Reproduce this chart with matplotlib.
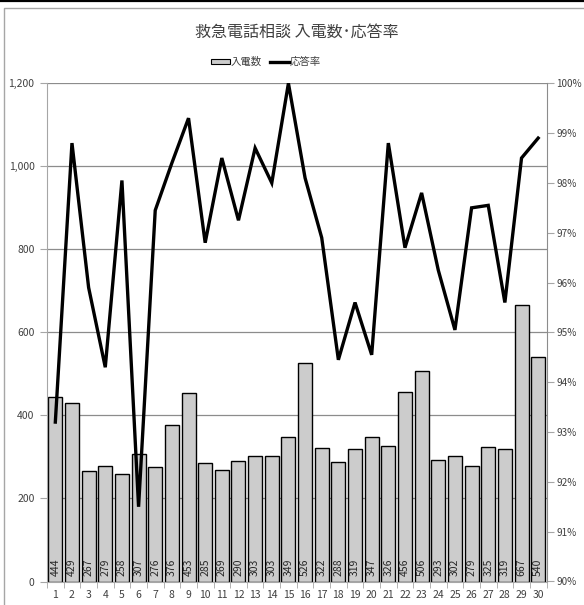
import numpy as np
import matplotlib
matplotlib.use("Agg")
import matplotlib.pyplot as plt
from matplotlib.patches import Patch
from matplotlib.lines import Line2D
from matplotlib.ticker import FuncFormatter, MultipleLocator, FixedLocator

plt.rcParams['font.family'] = ['Noto Sans CJK JP', 'DejaVu Sans']

# データ
days = [str(d) for d in range(1, 31)]
calls = [444, 429, 267, 279, 258, 307, 276, 376, 453, 285,
         269, 290, 303, 303, 349, 526, 322, 288, 319, 347,
         326, 456, 506, 293, 302, 279, 325, 319, 667, 540]
answer_rate = [93.2, 98.8, 95.9, 94.3, 98.05, 91.5, 97.45, 98.4, 99.3, 96.8,
               98.5, 97.25, 98.7, 98.0, 100.0, 98.1, 96.9, 94.45, 95.6, 94.55,
               98.8, 96.7, 97.8, 96.25, 95.05, 97.5, 97.55, 95.6, 98.5, 98.9]

title = "救急電話相談 入電数･応答率"
bar_label = "入電数"
line_label = "応答率"

text_col = "#404040"
grid_col = "#8c8c8c"
spine_col = "#a6a6a6"

W, H = 584, 605
fig = plt.figure(figsize=(W / 100, H / 100), dpi=100)

left, right, top, bottom = 47, 546.5, 83.3, 581.5
ax = fig.add_axes([left / W, (H - bottom) / H, (right - left) / W, (bottom - top) / H])

x = np.arange(len(days))
ax.bar(x, calls, width=0.84, color="#cccccc", edgecolor="black", linewidth=1.0, zorder=2)
for xi, v in zip(x, calls):
    ax.text(xi, 14, str(v), rotation=90, ha="center", va="bottom",
            fontsize=7.5, color="#262626", zorder=3)

ax.set_xlim(-0.5, len(days) - 0.5)
ax.set_ylim(0, 1200)
ax.yaxis.set_major_locator(MultipleLocator(200))
ax.yaxis.set_major_formatter(FuncFormatter(lambda v, p: f"{int(v):,}"))
ax.set_axisbelow(True)
ax.grid(axis="y", color=grid_col, linewidth=0.9)

ax.set_xticks(x)
ax.set_xticklabels(days)
ax.xaxis.set_minor_locator(FixedLocator(np.arange(-0.5, len(days), 1.0)))
ax.tick_params(axis="x", which="major", length=0, pad=6, labelsize=7.5, labelcolor=text_col)
ax.tick_params(axis="x", which="minor", length=4, color=spine_col, direction="out")
ax.tick_params(axis="y", length=5, color=spine_col, labelsize=7.5, labelcolor=text_col, pad=4)

for s in ["top", "right"]:
    ax.spines[s].set_visible(False)
ax.spines["left"].set_color(spine_col)
ax.spines["bottom"].set_color(spine_col)

ax2 = ax.twinx()
ax2.plot(x, answer_rate, color="black", linewidth=2.4, zorder=4, solid_joinstyle="miter")
ax2.set_ylim(90, 100)
ax2.yaxis.set_major_locator(MultipleLocator(1))
ax2.yaxis.set_major_formatter(FuncFormatter(lambda v, p: f"{int(round(v))}%"))
ax2.tick_params(axis="y", length=5, color=spine_col, labelsize=7.2, labelcolor=text_col, pad=2)
for s in ["top", "left", "bottom"]:
    ax2.spines[s].set_visible(False)
ax2.spines["right"].set_color(grid_col)

fig.text(297 / W, 1 - 32 / H, title, ha="center", va="center", fontsize=11.5, color=text_col)

handles = [Patch(facecolor="#cccccc", edgecolor="black", linewidth=0.8),
           Line2D([0], [0], color="black", linewidth=2.4)]
fig.legend(handles, [bar_label, line_label], loc="center", bbox_to_anchor=(266 / W, 1 - 62 / H),
           ncol=2, frameon=False, fontsize=7.5, handlelength=1.8, handleheight=0.45,
           handletextpad=0.05, columnspacing=0.8, labelcolor=text_col)

# chart area border and top rule
fig.add_artist(Line2D([0, 1], [1 - 1 / H, 1 - 1 / H], color="black", linewidth=1.6, transform=fig.transFigure))
fig.add_artist(Line2D([3.5 / W, 3.5 / W, 1], [0, 1 - 8 / H, 1 - 8 / H], color=spine_col, linewidth=1.0,
                      transform=fig.transFigure))

fig.savefig("out.png", dpi=100)
